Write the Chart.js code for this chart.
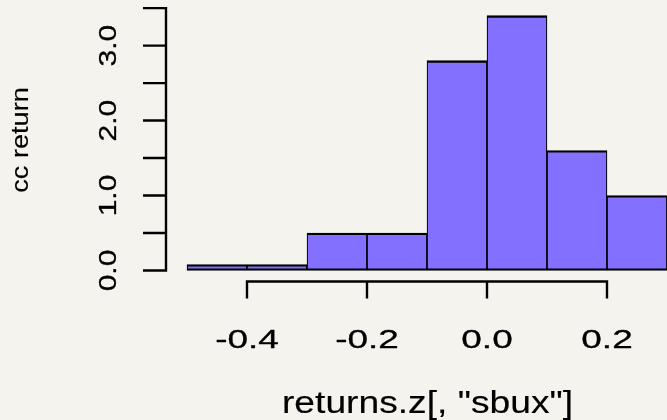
<!DOCTYPE html>
<html>
<head>
<meta charset="utf-8">
<script src="https://cdn.jsdelivr.net/npm/chart.js@4/dist/chart.umd.min.js"></script>
<style>
  html, body { margin: 0; padding: 0; background: #f5f3ee; }
  #wrap { width: 667px; height: 420px; }
</style>
</head>
<body>
<div id="wrap"><canvas id="hist" width="667" height="420"></canvas></div>
<script>
// Histogram of monthly cc returns for SBUX (density scale, bin width 0.1)
const binStarts = [-0.5, -0.4, -0.3, -0.2, -0.1, 0.0, 0.1, 0.2];
const binWidth = 0.1;
const densities = [0.08, 0.08, 0.5, 0.5, 2.8, 3.4, 1.6, 1.0];

const xTickValues = [-0.4, -0.2, 0.0, 0.2];
const xTickLabels = ["-0.4", "-0.2", "0.0", "0.2"];
const yTickValues = [0, 0.5, 1.0, 1.5, 2.0, 2.5, 3.0, 3.5];
const yLabelValues = [0, 1.0, 2.0, 3.0];
const yTickLabels = ["0.0", "1.0", "2.0", "3.0"];

const xTitle = 'returns.z[, "sbux"]';
const yTitle = 'cc return';

const FONT = '"Liberation Sans", Arial, Helvetica, sans-serif';

// draws text widened along its own direction, with a light outline for weight
function wideText(ctx, str, x, y, size, stretch, angle, weight) {
  ctx.save();
  ctx.translate(x, y);
  ctx.rotate(angle);
  ctx.scale(stretch, 1);
  ctx.font = size + 'px ' + FONT;
  ctx.fillStyle = '#000';
  ctx.strokeStyle = '#000';
  ctx.lineWidth = weight;
  ctx.lineJoin = 'round';
  ctx.textAlign = 'center';
  ctx.textBaseline = 'alphabetic';
  ctx.fillText(str, 0, 0);
  if (weight > 0) ctx.strokeText(str, 0, 0);
  ctx.restore();
}

// page background
const backdrop = {
  id: 'backdrop',
  beforeDraw(chart) {
    const ctx = chart.ctx;
    ctx.save();
    ctx.fillStyle = '#f5f3ee';
    ctx.fillRect(0, 0, chart.width, chart.height);
    ctx.restore();
  }
};

// base-graphics style axes: detached lines, outward ticks, rotated y labels
const baseAxes = {
  id: 'baseAxes',
  afterDraw(chart) {
    const ctx = chart.ctx;
    const xs = chart.scales.x, ys = chart.scales.y;
    const area = chart.chartArea;
    ctx.save();
    ctx.strokeStyle = '#000';
    ctx.lineWidth = 2.4;
    ctx.lineCap = 'butt';

    // y axis
    const yx = area.left;
    const yTop = ys.getPixelForValue(yTickValues[yTickValues.length - 1]);
    const yBot = ys.getPixelForValue(yTickValues[0]);
    ctx.beginPath();
    ctx.moveTo(yx, yTop - 1.2);
    ctx.lineTo(yx, yBot + 1.2);
    yTickValues.forEach(v => {
      const py = ys.getPixelForValue(v);
      ctx.moveTo(yx, py);
      ctx.lineTo(yx - 23, py);
    });
    ctx.stroke();

    // x axis
    const xy = area.bottom;
    const xL = xs.getPixelForValue(xTickValues[0]);
    const xR = xs.getPixelForValue(xTickValues[xTickValues.length - 1]);
    ctx.beginPath();
    ctx.moveTo(xL - 1.2, xy);
    ctx.lineTo(xR + 1.2, xy);
    xTickValues.forEach(v => {
      const px = xs.getPixelForValue(v);
      ctx.moveTo(px, xy);
      ctx.lineTo(px, xy + 17);
    });
    ctx.stroke();
    ctx.restore();

    // tick labels
    xTickValues.forEach((v, i) => {
      wideText(ctx, xTickLabels[i], xs.getPixelForValue(v), 348, 25.5, 1.45, 0, 0.3);
    });
    yLabelValues.forEach((v, i) => {
      wideText(ctx, yTickLabels[i], 116, ys.getPixelForValue(v), 24, 1.25, -Math.PI / 2, 0.3);
    });

    // axis titles
    wideText(ctx, xTitle, 427.5, 413, 31, 1.2, 0, 0.15);
    wideText(ctx, yTitle, 28, 140, 24, 1.13, -Math.PI / 2, 0.15);
  }
};

const points = binStarts.map((s, i) => ({ x: s + binWidth / 2, y: densities[i] }));

new Chart(document.getElementById('hist'), {
  type: 'bar',
  data: {
    datasets: [{
      data: points,
      backgroundColor: '#8470FF',
      borderColor: '#000000',
      borderWidth: { left: 1.2, right: 1.2, top: 2.4, bottom: 2.4 },
      borderSkipped: false,
      barPercentage: 1.0,
      categoryPercentage: 1.0
    }]
  },
  options: {
    responsive: false,
    animation: false,
    devicePixelRatio: 1,
    layout: { padding: { left: 166, right: 0, top: 4, bottom: 138.5 } },
    plugins: { legend: { display: false }, tooltip: { enabled: false } },
    scales: {
      x: { type: 'linear', min: -0.535, max: 0.3, display: false, offset: false },
      y: { type: 'linear', min: -0.147, max: 3.555, display: false }
    }
  },
  plugins: [backdrop, baseAxes]
});
</script>
</body>
</html>
